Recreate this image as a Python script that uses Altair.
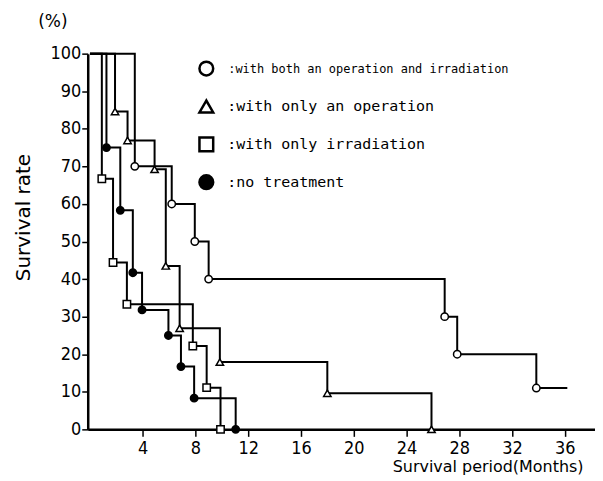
import altair as alt
import pandas as pd

# ---- data ----
groups = ["both", "op", "irr", "none"]
labels = [":with both an operation and irradiation",
          ":with only an operation",
          ":with only irradiation",
          ":no treatment"]

both_t = [0, 3.4, 6.2, 7.95, 9.0, 26.9, 27.85, 33.85, 36.2]
both_s = [100, 70, 60, 50, 40, 30, 20, 11, 11]
op_t = [0, 1.9, 2.85, 4.9, 5.75, 6.8, 9.85, 18.0, 25.9]
op_s = [100, 84.6, 76.9, 69.2, 43.5, 26.9, 17.9, 9.6, 0]
irr_t = [0, 0.9, 1.75, 2.8, 7.8, 8.85, 9.9]
irr_s = [100, 66.7, 44.4, 33.3, 22.2, 11.1, 0]
none_t = [0, 1.25, 2.3, 3.25, 3.95, 5.95, 6.9, 7.9, 11.05]
none_s = [100, 75, 58.3, 41.7, 31.8, 25, 16.7, 8.3, 0]

x_ticks = [4, 8, 12, 16, 20, 24, 28, 32, 36]
y_ticks = [0, 10, 20, 30, 40, 50, 60, 70, 80, 90, 100]

series = {"both": (both_t, both_s), "op": (op_t, op_s),
          "irr": (irr_t, irr_s), "none": (none_t, none_s)}
rows = []
for g, (ts, ss) in series.items():
    n = len(ts)
    for i, (t, s) in enumerate(zip(ts, ss)):
        marker = i > 0 and not (g == "both" and i == n - 1)
        rows.append({"group": g, "i": i, "t": t, "s": s, "marker": marker})
df = pd.DataFrame(rows)

shape_scale = alt.Scale(domain=groups, range=["circle", "triangle-up", "square", "circle"])
fill_scale = alt.Scale(domain=groups, range=["white", "white", "white", "black"])

LABEL_FONT = "DejaVu Sans Condensed, Liberation Sans Narrow, Liberation Sans, sans-serif"
TEXT_FONT = "DejaVu Sans, sans-serif"
MONO_FONT = "DejaVu Sans Mono, monospace"

xscale = alt.Scale(domain=[-0.17, 38.3], nice=False, zero=False)
yscale = alt.Scale(domain=[0, 100], nice=False, zero=False)

x_axis = alt.Axis(values=x_ticks, title="Survival period(Months)",
                  titleX=497, titleY=42, titleAlign="right",
                  titleBaseline="alphabetic", titleFontSize=16,
                  titleFont=TEXT_FONT, titleFontWeight="normal",
                  tickSize=7, labelPadding=3, labelOverlap=False)
y_axis = alt.Axis(values=y_ticks, tickCount=11, title="Survival rate",
                  titleX=-64, titleY=164, titleAngle=-90,
                  titleAlign="center", titleBaseline="middle",
                  titleFontSize=20, titleFont=TEXT_FONT,
                  titleFontWeight="normal", tickSize=6, labelPadding=1,
                  labelOverlap=False, labelFlush=False)

lines = alt.Chart(df).mark_line(interpolate="step-after", color="black",
                                strokeWidth=2).encode(
    x=alt.X("t:Q", scale=xscale, axis=x_axis),
    y=alt.Y("s:Q", scale=yscale, axis=y_axis),
    detail="group:N",
    order="i:Q",
)

points = alt.Chart(df).transform_filter("datum.marker").mark_point(
    stroke="black", strokeWidth=1.5, opacity=1, size=55).encode(
    x=alt.X("t:Q", scale=xscale, axis=x_axis),
    y=alt.Y("s:Q", scale=yscale, axis=y_axis),
    shape=alt.Shape("group:N", scale=shape_scale, legend=None),
    fill=alt.Fill("group:N", scale=fill_scale, legend=None),
)

data_layer = alt.layer(lines, points)

leg_df = pd.DataFrame({"group": groups, "label": labels})
leg_y = alt.Y("group:N", scale=alt.Scale(type="point", domain=groups, range=[15, 129],
                                         padding=0),
              axis=None)
leg_pts = alt.Chart(leg_df).mark_point(stroke="black", strokeWidth=2.5, opacity=1,
                                       size=190).encode(
    x=alt.value(119), y=leg_y,
    shape=alt.Shape("group:N", scale=shape_scale, legend=None),
    fill=alt.Fill("group:N", scale=fill_scale, legend=None),
)
leg_txt1 = alt.Chart(leg_df).transform_filter(
    alt.datum.group == "both").mark_text(
    align="left", baseline="middle", font=MONO_FONT, fontSize=12,
    color="black").encode(x=alt.value(141), y=leg_y, text="label:N")
leg_txt2 = alt.Chart(leg_df).transform_filter(
    alt.datum.group != "both").mark_text(
    align="left", baseline="middle", font=MONO_FONT, fontSize=15,
    color="black").encode(x=alt.value(140), y=leg_y, text="label:N")
pct = alt.Chart(pd.DataFrame({"txt": ["(%)"]})).mark_text(
    font=TEXT_FONT, fontSize=17, color="black").encode(
    x=alt.value(-35), y=alt.value(-32), text="txt:N")

legend_layer = alt.layer(leg_pts, leg_txt1, leg_txt2, pct)

chart = alt.layer(data_layer, legend_layer).resolve_scale(
    y="independent", x="shared"
).properties(
    width=509, height=377,
    autosize=alt.AutoSizeParams(type="none"),
    padding={"left": 80, "top": 45, "right": 0, "bottom": 48},
).configure_view(stroke=None).configure_axis(
    grid=False, domainColor="black", domainWidth=2.5, tickColor="black",
    tickWidth=1.5, labelColor="black", titleColor="black",
    labelFont=LABEL_FONT, labelFontSize=18,
)

chart.save("out.html", embed_options={"renderer": "svg", "actions": False})
